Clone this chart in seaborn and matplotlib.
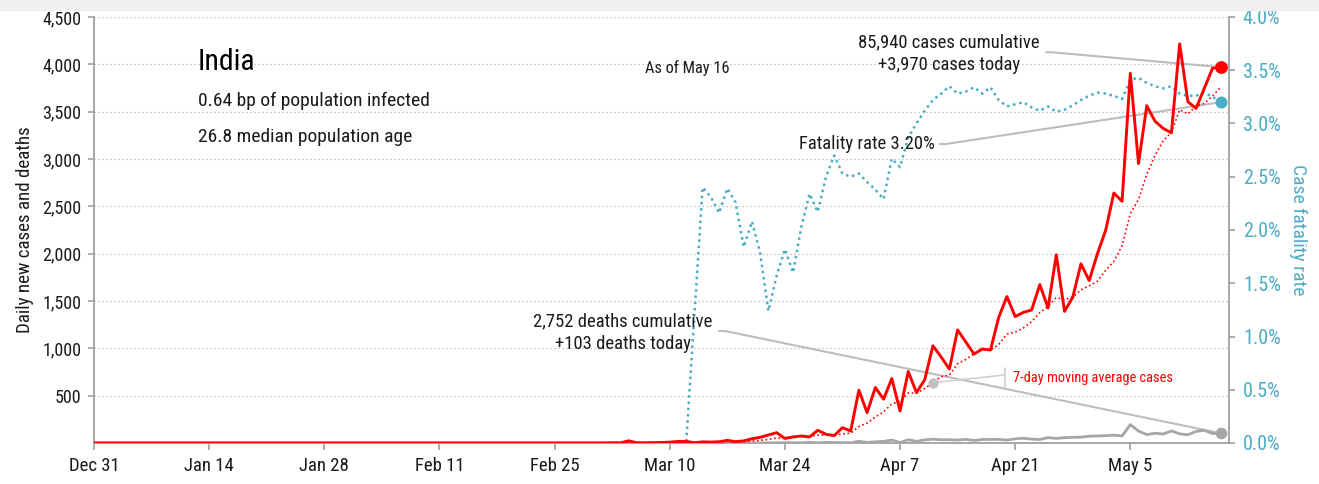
import numpy as np
import pandas as pd
import matplotlib
matplotlib.use("Agg")
import matplotlib.pyplot as plt
import seaborn as sns
from matplotlib import font_manager as fm
from matplotlib.patches import Rectangle

# ---------------- data ----------------
start_date = "2019-12-31"
end_date = "2020-05-16"

early_case_dates = ["2020-01-30", "2020-02-02", "2020-02-03"]
early_cases = [1, 1, 1]

# daily new cases, Mar 1 .. May 16
cases_start = "2020-03-01"
cases_mar_may = [
    0, 0, 2, 1, 23, 2, 1, 3, 5, 9,            # Mar 1-10
    16, 17, 3, 12, 10, 13, 28, 14, 22, 45,    # Mar 11-20
    60, 85, 109, 48, 64, 74, 64, 134, 92, 78, # Mar 21-30
    162,                                      # Mar 31
    127, 558, 321, 586, 463, 681, 339, 755, 533, 667,        # Apr 1-10
    1027, 909, 781, 1194, 1067, 940, 993, 982, 1327, 1547,   # Apr 11-20
    1335, 1380, 1405, 1673, 1427, 1988, 1391, 1539, 1893, 1716,  # Apr 21-30
    1999, 2246, 2641, 2553, 3906, 2952, 3563, 3400, 3323, 3277,  # May 1-10
    4216, 3605, 3535, 3747, 3959, 3970,                      # May 11-16
]

# daily deaths, Mar 12 .. May 16
deaths_start = "2020-03-12"
deaths_mar_may = [
    1, 0, 1, 0, 0, 1, 0, 1, 1, 0,             # Mar 12-21
    2, 2, 1, 1, 3, 7, 2, 6, 5, 3,             # Mar 22-31
    3, 18, 6, 13, 17, 31, 4, 35, 17, 33,      # Apr 1-10
    40, 34, 35, 31, 38, 27, 37, 37, 38, 31,   # Apr 11-20
    44, 50, 41, 37, 57, 49, 56, 60, 62, 71,   # Apr 21-30
    75, 77, 83, 74, 194, 126, 89, 103, 95, 128,  # May 1-10
    97, 87, 122, 134, 100, 103,               # May 11-16
]

# case fatality rate (%), Mar 12 .. May 16
cfr_start = "2020-03-12"
cfr_mar_may = [
    0.0, 1.20, 2.40, 2.31, 2.16, 2.39, 2.26, 1.84, 2.08, 1.78,   # Mar 12-21
    1.24, 1.57, 1.82, 1.60, 2.03, 2.34, 2.17, 2.50, 2.70, 2.53,  # Mar 22-31
    2.50, 2.53, 2.45, 2.38, 2.29, 2.67, 2.59, 2.87, 3.00, 3.12,  # Apr 1-10
    3.22, 3.28, 3.35, 3.28, 3.30, 3.34, 3.28, 3.34, 3.22, 3.16,  # Apr 11-20
    3.18, 3.20, 3.15, 3.12, 3.16, 3.11, 3.13, 3.17, 3.22, 3.26,  # Apr 21-30
    3.29, 3.28, 3.26, 3.23, 3.41, 3.43, 3.38, 3.35, 3.33, 3.35,  # May 1-10
    3.28, 3.26, 3.26, 3.29, 3.25, 3.20,                          # May 11-16
]

tick_labels = ["Dec 31", "Jan 14", "Jan 28", "Feb 11", "Feb 25",
               "Mar 10", "Mar 24", "Apr 7", "Apr 21", "May 5"]
y_left_ticks = [500, 1000, 1500, 2000, 2500, 3000, 3500, 4000, 4500]
y_right_ticks = [0.0, 0.5, 1.0, 1.5, 2.0, 2.5, 3.0, 3.5, 4.0]

country = "India"
infected_text = "0.64 bp of population infected"
age_text = "26.8 median population age"
asof_text = "As of May 16"
cases_text = "85,940 cases cumulative\n+3,970 cases today"
deaths_text = "2,752 deaths cumulative\n+103 deaths today"
cfr_text = "Fatality rate 3.20%"
ma_text = "7-day moving average cases"

# ---------------- build frame ----------------
dates = pd.date_range(start_date, end_date, freq="D")
df = pd.DataFrame({"date": dates})
df["cases"] = 0.0
df["deaths"] = 0.0
df["cfr"] = 0.0
df = df.set_index("date")
for d, v in zip(early_case_dates, early_cases):
    df.loc[pd.Timestamp(d), "cases"] = v
idx = pd.date_range(cases_start, periods=len(cases_mar_may), freq="D")
df.loc[idx, "cases"] = cases_mar_may
idx = pd.date_range(deaths_start, periods=len(deaths_mar_may), freq="D")
df.loc[idx, "deaths"] = deaths_mar_may
idx = pd.date_range(cfr_start, periods=len(cfr_mar_may), freq="D")
df.loc[idx, "cfr"] = cfr_mar_may
df["ma7"] = df["cases"].rolling(7, min_periods=1).mean()
df = df.reset_index()

# ---------------- style ----------------
sns.set_theme(style="white")
names = {f.name for f in fm.fontManager.ttflist}
family = "DejaVu Sans"
for cand in ["Liberation Sans Narrow", "Roboto Condensed", "Open Sans Condensed"]:
    if cand in names:
        family = cand
        break
plt.rcParams["font.family"] = [family, "DejaVu Sans"]

RED = "#ff0000"
TEAL = "#4bacc6"
GRAY = "#a6a6a6"
LEADER = "#bdbdbd"
AXC = "#a0a0a0"
TXT = "#1a1a1a"

W, H = 1319, 484
fig = plt.figure(figsize=(W / 100, H / 100), dpi=100)
fig.patches.append(Rectangle((0, 1 - 10 / H), 1, 10 / H, transform=fig.transFigure,
                             color="#f0f0f0", zorder=0))
ax = fig.add_axes([94 / W, 41 / H, 1135 / W, 426 / H])
ax2 = ax.twinx()

x0 = pd.Timestamp(start_date)
x1 = pd.Timestamp(end_date) + pd.Timedelta(days=1)

# grid lines
for yv in y_left_ticks:
    ax.axhline(yv, color="#b5b5b5", lw=0.9, ls=(0, (1, 2.2)), zorder=0.5)

sns.lineplot(data=df, x="date", y="deaths", ax=ax, color=GRAY, lw=2.0, zorder=3)
sns.lineplot(data=df, x="date", y="ma7", ax=ax, color=RED, lw=1.2,
             ls=(0, (1, 1.6)), zorder=3)
sns.lineplot(data=df, x="date", y="cases", ax=ax, color=RED, lw=2.1, zorder=4)
sns.lineplot(data=df, x="date", y="cfr", ax=ax2, color=TEAL, lw=1.8,
             ls=(0, (1, 1.5)), zorder=3)

last = df.iloc[-1]
ax.scatter([last["date"]], [last["cases"]], s=85, color=RED, zorder=6, lw=0)
ax.scatter([last["date"]], [last["deaths"]], s=70, color=GRAY, zorder=6, lw=0)
ax2.scatter([last["date"]], [last["cfr"]], s=75, color=TEAL, zorder=6, lw=0)
ma_pt = df[df["date"] == pd.Timestamp("2020-04-11")].iloc[0]
ax.scatter([ma_pt["date"]], [ma_pt["ma7"]], s=55, color="#c0c0c0", zorder=6, lw=0)

# axes cosmetics
ax.set_xlim(x0, x1)
ax.set_ylim(0, 4500)
ax2.set_ylim(0, 4.0)
ax2.set_xlim(x0, x1)
tick_dates = pd.date_range(start_date, periods=len(tick_labels), freq="14D")
ax.set_xticks(tick_dates)
ax.set_xticklabels(tick_labels)
ax.set_yticks(y_left_ticks)
ax.set_yticklabels([f"{v:,}" for v in y_left_ticks])
ax2.set_yticks(y_right_ticks)
ax2.set_yticklabels([f"{v:.1f}%" for v in y_right_ticks])

for a in (ax, ax2):
    for s in a.spines.values():
        s.set_color(AXC)
        s.set_linewidth(1.3)
    a.spines["top"].set_visible(False)
ax.spines["right"].set_visible(False)
ax2.spines["left"].set_visible(False)
ax2.spines["bottom"].set_visible(False)

ax.tick_params(axis="x", direction="out", length=5, width=1.2, color=AXC,
               labelsize=13.5, labelcolor=TXT, pad=5, bottom=True)
ax.tick_params(axis="y", direction="out", length=4, width=1.2, color=AXC,
               labelsize=13, labelcolor=TXT, pad=5, left=True)
ax2.tick_params(axis="y", direction="out", length=4, width=1.2, color=AXC,
                labelsize=14.5, labelcolor=TEAL, pad=6, right=True)

ax.set_xlabel("")
ax.set_ylabel("Daily new cases and deaths", fontsize=13.7, color=TXT, labelpad=6)
ax2.set_ylabel("Case fatality rate", fontsize=14, color=TEAL, rotation=270,
               va="bottom", labelpad=6)

# ---------------- texts ----------------
def fx(px):
    return (px - 94) / 1135


def fy(py):
    return (443 - py) / 426


ax.text(fx(198), fy(62), country, transform=ax.transAxes, fontsize=21.5,
        color="black", ha="left", va="center")
ax.text(fx(198), fy(101), infected_text, transform=ax.transAxes, fontsize=14,
        color=TXT, ha="left", va="center")
ax.text(fx(198), fy(137), age_text, transform=ax.transAxes, fontsize=14,
        color=TXT, ha="left", va="center")
ax.text(fx(687), fy(68), asof_text, transform=ax.transAxes, fontsize=11.8,
        color=TXT, ha="center", va="center")

ax.text(fx(949), fy(53.5), cases_text, transform=ax.transAxes, fontsize=13.4,
        color=TXT, ha="center", va="center", multialignment="center",
        linespacing=1.35, zorder=7)
ax.text(fx(935), fy(144), cfr_text, transform=ax.transAxes, fontsize=13.4,
        color=TXT, ha="right", va="center", zorder=7)
ax.text(fx(623), fy(332.5), deaths_text, transform=ax.transAxes, fontsize=13.4,
        color=TXT, ha="center", va="center", multialignment="center",
        linespacing=1.35, zorder=7)
ax.text(fx(1013), fy(378), ma_text, transform=ax.transAxes, fontsize=10.4,
        color=RED, ha="left", va="center", zorder=7)

conn = "arc,angleA=0,armA=6,angleB=0,armB=0,rad=0"
lead = dict(arrowstyle="-", color=LEADER, lw=1.5, shrinkA=0, shrinkB=0,
            connectionstyle=conn)
ax.annotate("", xy=(last["date"], last["cases"]), xycoords="data",
            xytext=(fx(1046), fy(52.3)), textcoords="axes fraction",
            arrowprops=lead, zorder=2)
ax2.annotate("", xy=(last["date"], last["cfr"]), xycoords="data",
             xytext=(fx(940), fy(144)), textcoords="axes fraction",
             arrowprops=lead, zorder=2)
ax.annotate("", xy=(last["date"], last["deaths"]), xycoords="data",
            xytext=(fx(719), fy(331)), textcoords="axes fraction",
            arrowprops=lead, zorder=2)
ax.annotate("", xy=(ma_pt["date"], ma_pt["ma7"]), xycoords="data",
            xytext=(fx(1005), fy(375)), textcoords="axes fraction",
            arrowprops=dict(arrowstyle="-", color="#d0d0d0", lw=1.2,
                            shrinkA=0, shrinkB=0), zorder=2)
ax.plot([fx(1005), fx(1005)], [fy(368), fy(388)], transform=ax.transAxes,
        color="#d0d0d0", lw=1.2, zorder=2)

ax.set_zorder(ax2.get_zorder() + 1)
ax.patch.set_visible(False)

fig.savefig("out.png", dpi=100)
